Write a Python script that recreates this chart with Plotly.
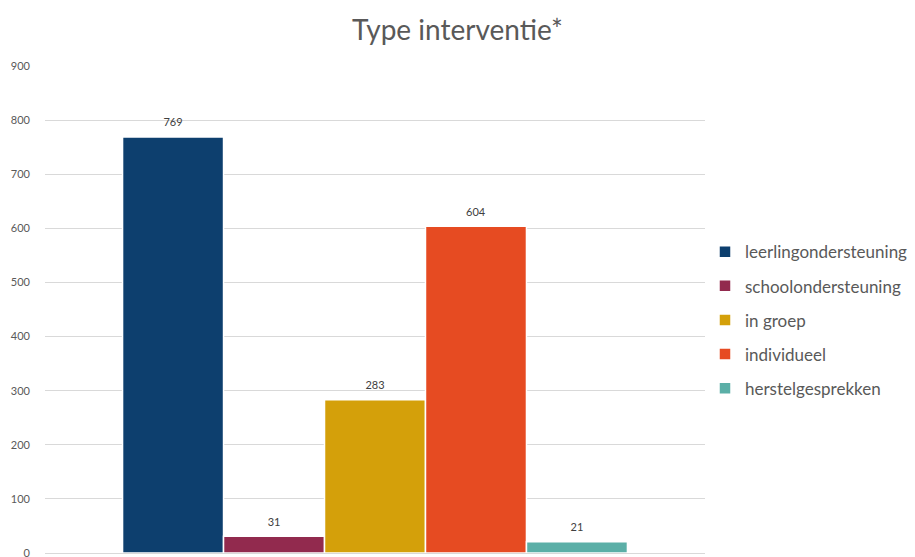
import plotly.graph_objects as go

categories = ["leerlingondersteuning", "schoolondersteuning", "in groep", "individueel", "herstelgesprekken"]
values = [769, 31, 283, 604, 21]
colors = ["#0D3F6E", "#922A4E", "#D4A00A", "#E64B22", "#5BAFA7"]
ytick_vals = [0, 100, 200, 300, 400, 500, 600, 700, 800, 900]

fig = go.Figure()
for i, (name, v, c) in enumerate(zip(categories, values, colors)):
    fig.add_trace(go.Bar(
        x=["Type"], y=[v], name=name, legendgroup=name,
        marker=dict(color=c, line=dict(color="white", width=1.5)),
        text=[str(v)], textposition="outside",
        texttemplate="<span style='font-size:11px'>%{y}</span><br> ",
        textfont=dict(size=5, color="#404040", family="Lato"),
        cliponaxis=False,
    ))

fig.update_layout(
    width=915, height=557,
    margin=dict(l=45, r=210, t=66, b=4, autoexpand=False),
    paper_bgcolor="white", plot_bgcolor="white",
    barmode="group", bargap=0.235, bargroupgap=0,
    title=dict(text="Type interventie*", x=0.5, xref="container", xanchor="center",
               y=0.945, yanchor="middle",
               font=dict(size=28, color="#595959", family="Lato")),
    font=dict(family="Lato", color="#595959"),
    showlegend=True,
    legend=dict(x=1.0, xanchor="left", y=0.478, yanchor="middle",
                font=dict(size=17, color="#595959"), tracegroupgap=9,
                traceorder="grouped"),
    yaxis=dict(range=[0, 900], tickvals=ytick_vals, showgrid=True, gridcolor="#D9D9D9",
               gridwidth=1, zeroline=False, showline=False,
               tickfont=dict(size=11, color="#595959"), ticklabelstandoff=14,
               ticklabeloverflow="allow"),
    xaxis=dict(showticklabels=False, showline=True, linecolor="#D9D9D9", linewidth=1,
               ticks=""),
)

fig.write_html("out.html")
